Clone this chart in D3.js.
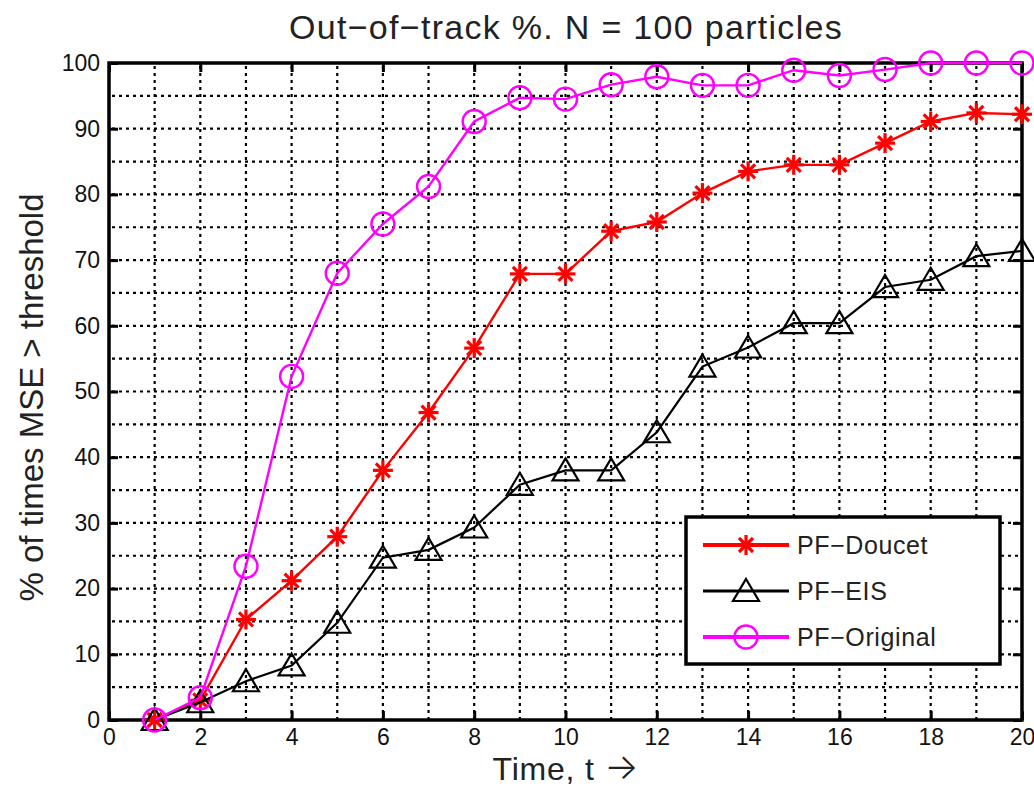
<!DOCTYPE html>
<html>
<head>
<meta charset="utf-8">
<script src="https://cdn.jsdelivr.net/npm/d3@7"></script>
<style>
  html, body { margin: 0; padding: 0; background: #fff; }
  svg { display: block; font-family: "Liberation Sans", Arial, sans-serif; }
</style>
</head>
<body>
<div id="app"></div>
<script>
// data
const times = [1, 2, 3, 4, 5, 6, 7, 8, 9, 10, 11, 12, 13, 14, 15, 16, 17, 18, 19, 20];
const doucet = [0, 3, 15.3, 21.2, 27.9, 38, 46.8, 56.6, 67.9, 67.9, 74.4, 75.8, 80.2, 83.5, 84.5, 84.5, 87.8, 91.1, 92.4, 92.2];
const eis = [0, 2.7, 5.9, 8.3, 14.8, 24.7, 25.9, 29.3, 35.8, 38, 38, 43.8, 53.8, 56.7, 60.4, 60.4, 65.9, 67, 70.6, 71.4];
const original = [0, 3.4, 23.4, 52.3, 68, 75.5, 81.2, 91.1, 94.7, 94.5, 96.7, 97.9, 96.6, 96.6, 98.9, 98.1, 99, 100, 100, 100];
const xTicks = [0, 2, 4, 6, 8, 10, 12, 14, 16, 18, 20];
const yTicks = [0, 10, 20, 30, 40, 50, 60, 70, 80, 90, 100];
const xGrid = [1, 2, 3, 4, 5, 6, 7, 8, 9, 10, 11, 12, 13, 14, 15, 16, 17, 18, 19];
const yGrid = [5, 10, 15, 20, 25, 30, 35, 40, 45, 50, 55, 60, 65, 70, 75, 80, 85, 90, 95];
const seriesNames = ["PF\u2212Doucet", "PF\u2212EIS", "PF\u2212Original"];

const W = 1034, H = 787;
const plotL = 109, plotR = 1022, plotT = 63, plotB = 720;

const x = d3.scaleLinear([0, 20], [plotL, plotR]);
const y = d3.scaleLinear([0, 100], [plotB, plotT]);

const svg = d3.select("#app").append("svg")
    .attr("width", W)
    .attr("height", H);

// grid (MATLAB style dotted)
const grid = svg.append("g").attr("stroke", "#000").attr("stroke-width", 2.2).attr("stroke-dasharray", "3,4");
grid.selectAll("line.v").data(xGrid).join("line").classed("v", true)
    .attr("x1", d => x(d)).attr("x2", d => x(d))
    .attr("y1", plotT + 3).attr("y2", plotB);
grid.selectAll("line.h").data(yGrid).join("line").classed("h", true)
    .attr("x1", plotL + 3).attr("x2", plotR)
    .attr("y1", d => y(d)).attr("y2", d => y(d));

// axes
function styleAxis(g) {
    g.select(".domain").remove();
    g.selectAll(".tick line").attr("stroke", "#000").attr("stroke-width", 3);
    g.selectAll(".tick text").attr("fill", "#111").attr("font-size", 23)
        .attr("font-family", "Liberation Sans, Arial, sans-serif");
}
svg.append("g").attr("transform", `translate(0,${plotB})`)
    .call(d3.axisBottom(x).tickValues(xTicks).tickSizeInner(-9).tickSizeOuter(0).tickPadding(9).tickFormat(d3.format("d")))
    .call(styleAxis);
svg.append("g").attr("transform", `translate(0,${plotT})`)
    .call(d3.axisTop(x).tickValues(xTicks).tickSizeInner(-9).tickSizeOuter(0).tickFormat(""))
    .call(styleAxis);
svg.append("g").attr("transform", `translate(${plotL},0)`)
    .call(d3.axisLeft(y).tickValues(yTicks).tickSizeInner(-9).tickSizeOuter(0).tickPadding(9).tickFormat(d3.format("d")))
    .call(styleAxis);
svg.append("g").attr("transform", `translate(${plotR},0)`)
    .call(d3.axisRight(y).tickValues(yTicks).tickSizeInner(-9).tickSizeOuter(0).tickFormat(""))
    .call(styleAxis);

svg.append("rect")
    .attr("x", plotL).attr("y", plotT)
    .attr("width", plotR - plotL).attr("height", plotB - plotT)
    .attr("fill", "none").attr("stroke", "#000").attr("stroke-width", 3.5);

// markers
function drawStar(g, cx, cy, color) {
    const r = 10, d = 7;
    const p = g.append("g").attr("stroke", color).attr("stroke-width", 3.2);
    p.append("line").attr("x1", cx - r).attr("x2", cx + r).attr("y1", cy).attr("y2", cy);
    p.append("line").attr("x1", cx).attr("x2", cx).attr("y1", cy - r).attr("y2", cy + r);
    p.append("line").attr("x1", cx - d).attr("x2", cx + d).attr("y1", cy - d).attr("y2", cy + d);
    p.append("line").attr("x1", cx - d).attr("x2", cx + d).attr("y1", cy + d).attr("y2", cy - d);
}
function drawTri(g, cx, cy, color) {
    g.append("path")
        .attr("d", `M${cx},${cy - 12}L${cx + 13},${cy + 10}L${cx - 13},${cy + 10}Z`)
        .attr("fill", "none").attr("stroke", color).attr("stroke-width", 2.2);
}
function drawCircle(g, cx, cy, color) {
    g.append("circle").attr("cx", cx).attr("cy", cy).attr("r", 11.5)
        .attr("fill", "none").attr("stroke", color).attr("stroke-width", 2.4);
}

const series = [
    { name: seriesNames[0], values: doucet, color: "#ff0000", marker: drawStar, width: 2.4 },
    { name: seriesNames[1], values: eis, color: "#000000", marker: drawTri, width: 2.2 },
    { name: seriesNames[2], values: original, color: "#ff00ff", marker: drawCircle, width: 2.4 }
];

const line = d3.line().x(d => x(d[0])).y(d => y(d[1]));

series.forEach(s => {
    const pts = times.map((t, i) => [t, s.values[i]]);
    const g = svg.append("g");
    g.append("path").datum(pts)
        .attr("d", line)
        .attr("fill", "none")
        .attr("stroke", s.color)
        .attr("stroke-width", s.width);
    pts.forEach(p => s.marker(g, x(p[0]), y(p[1]), s.color));
});

// legend
const lg = svg.append("g");
lg.append("rect")
    .attr("x", 686).attr("y", 517).attr("width", 314).attr("height", 147)
    .attr("fill", "#fff").attr("stroke", "#000").attr("stroke-width", 3.5);
series.forEach((s, i) => {
    const ly = 545 + i * 46;
    lg.append("line").attr("x1", 703).attr("x2", 789).attr("y1", ly).attr("y2", ly)
        .attr("stroke", s.color).attr("stroke-width", s === series[1] ? 3 : 4);
    s.marker(lg, 746, ly, s.color);
    lg.append("text").attr("x", 797).attr("y", ly + 9)
        .attr("font-size", 25).attr("letter-spacing", 0.6).attr("fill", "#222").text(s.name);
});

// labels
svg.append("text")
    .attr("x", 566).attr("y", 39)
    .attr("text-anchor", "middle")
    .attr("font-size", 34).attr("letter-spacing", 1.3).attr("fill", "#222")
    .text("Out\u2212of\u2212track %. N = 100 particles");

const xl = svg.append("text")
    .attr("x", 566).attr("y", 780)
    .attr("text-anchor", "middle")
    .attr("font-size", 32).attr("letter-spacing", 0.8).attr("fill", "#222");
xl.append("tspan").text("Time, t ");
xl.append("tspan").attr("font-family", "Inter, DejaVu Sans").attr("font-weight", 300)
    .attr("font-size", 36).attr("dy", -1).text("\u2192");

svg.append("text")
    .attr("transform", `translate(43,${(plotT + plotB) / 2 + 6}) rotate(-90)`)
    .attr("text-anchor", "middle")
    .attr("font-size", 33).attr("fill", "#222")
    .text("% of times MSE > threshold");
</script>
</body>
</html>
